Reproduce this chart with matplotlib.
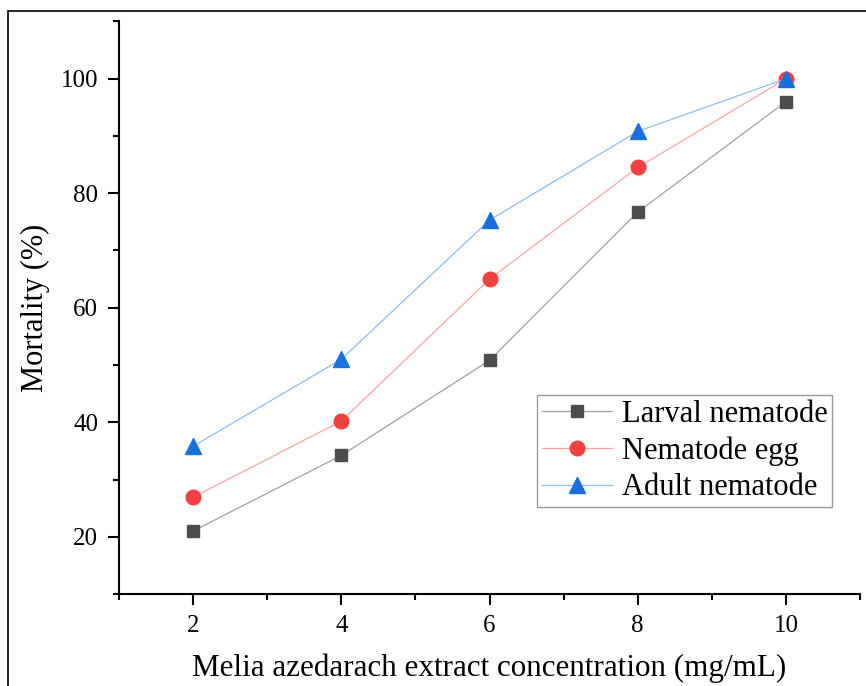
import matplotlib
matplotlib.use("Agg")
import matplotlib.pyplot as plt
from matplotlib.patches import Rectangle
from matplotlib.ticker import MultipleLocator

# data
conc = [2, 4, 6, 8, 10]
larval = [21.0, 34.2, 50.8, 76.7, 96.0]
egg = [26.9, 40.2, 65.0, 84.5, 100.0]
adult = [35.8, 51.0, 75.3, 90.8, 100.0]
labels = ["Larval nematode", "Nematode egg", "Adult nematode"]

plt.rcParams["font.family"] = ["Liberation Serif", "DejaVu Serif"]

fig = plt.figure(figsize=(8.66, 6.86), dpi=100)
ax = fig.add_axes([119/866, 1-594/686, (860-119)/866, (594-21.5)/686])

# outer frame (only left/top edges fall inside the image)
fig.patches.append(Rectangle((8/866, -0.1), 1.2, 1-11/686+0.1, transform=fig.transFigure,
                             fill=False, ec="black", lw=1.2))

series = [(larval, "s", "#4d4d4d", "#a0a0a0", 8.5),
          (egg, "o", "#f14040", "#f7a5a5", 10.5),
          (adult, "^", "#1a6fdf", "#90baf0", 11)]
for (vals, mk, mc, lc, ms), lab in zip(series, labels):
    ax.plot(conc, vals, color=lc, lw=0.9, marker=mk, ms=ms, mfc=mc, mec=mc, label=lab)

ax.set_xlim(1, 11)
ax.set_ylim(10, 110)
ax.xaxis.set_major_locator(MultipleLocator(2))
ax.xaxis.set_minor_locator(MultipleLocator(1))
ax.yaxis.set_major_locator(MultipleLocator(20))
ax.yaxis.set_minor_locator(MultipleLocator(10))
for s in ["top", "right"]:
    ax.spines[s].set_visible(False)
for s in ["left", "bottom"]:
    ax.spines[s].set_linewidth(1.5)
ax.tick_params(which="major", length=8, width=1.5, labelsize=18, pad=7)
ax.tick_params(which="minor", length=4.5, width=1.5)
ax.set_yticks([20, 40, 60, 80, 100])
ax.set_xlabel("Melia azedarach extract concentration (mg/mL)", fontsize=22.4, labelpad=12)
ax.set_ylabel("Mortality (%)", fontsize=22, labelpad=8)

leg = ax.legend(loc="lower right", bbox_to_anchor=(0.962, 0.152), fontsize=22, frameon=True,
                fancybox=False, edgecolor="#808080", handlelength=2.3, borderpad=0.15,
                labelspacing=0.25, handletextpad=0.3, borderaxespad=0)
leg.get_frame().set_linewidth(1.0)

fig.savefig("out.png", dpi=100)
